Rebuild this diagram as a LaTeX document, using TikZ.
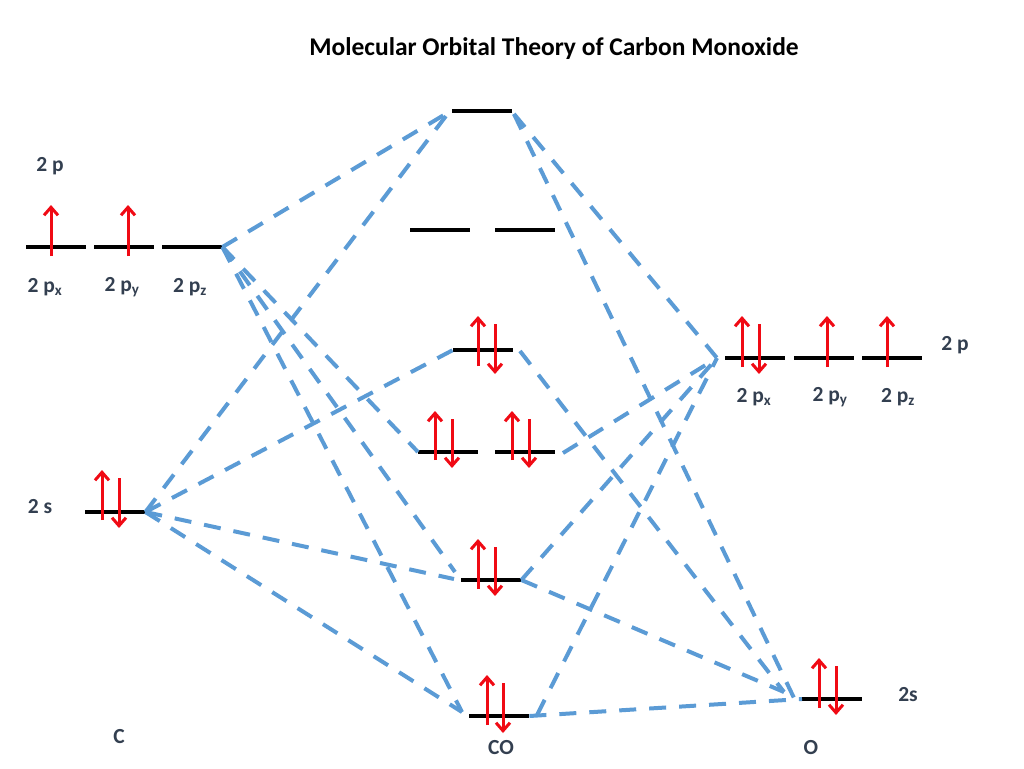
\documentclass[tikz,border=0pt]{standalone}
\usepackage{fontspec}
\setmainfont{Carlito}
\usetikzlibrary{arrows.meta}
\definecolor{lblue}{HTML}{5B9BD5}
\definecolor{slate}{HTML}{333F50}
\definecolor{elecred}{HTML}{F00A14}
\tikzset{
  level/.style={fill=black,inner sep=0pt,minimum width=#1,minimum height=4pt,anchor=west},
  level/.default=60pt,
  link/.style={draw=lblue,line width=4pt,dash pattern=on 17pt off 13pt},
  elec/.style={draw=elecred,line width=3pt,-{Straight Barb[length=8pt,width=14pt,line width=3pt]}},
  lab/.style={text=slate,font=\fontsize{21.5}{24}\selectfont\bfseries,inner sep=0pt},
  ttl/.style={text=black,font=\fontsize{25.5}{28}\selectfont\bfseries,inner sep=0pt}
}
\begin{document}
\begin{tikzpicture}[x=1pt,y=-1pt]
\useasboundingbox (0,0) rectangle (1024,768);
\node[ttl] (title) at (554,48.5) {Molecular Orbital Theory of Carbon Monoxide};
\node[level] (cx) at (26,247) {};
\node[level] (cy) at (94,247) {};
\node[level] (cz) at (162,247) {};
\node[level] (cs) at (85,512) {};
\node[level] (m1) at (452,111) {};
\node[level] (m2a) at (410,230) {};
\node[level] (m2b) at (495,230) {};
\node[level] (m3) at (453,350) {};
\node[level] (m4a) at (418,452) {};
\node[level] (m4b) at (495,452) {};
\node[level] (m5) at (461,580) {};
\node[level] (m6) at (469,716) {};
\node[level] (ox) at (725,358) {};
\node[level] (oy) at (794,358) {};
\node[level] (oz) at (862,358) {};
\node[level] (os) at (802,699) {};
% free ends of the connectors, where they stop short of a level
\coordinate (m1in) at (449,112);
\coordinate (m1out) at (514,114);
\coordinate (m3out) at (520,351);
\coordinate (m4out) at (563,453);
\coordinate (m5inA) at (455,572);
\coordinate (m5inB) at (454,579);
\coordinate (m6in) at (462,712);
\coordinate (m6out) at (537,715);
\coordinate (oxin) at (717,358);
\coordinate (osinA) at (794,698);
\coordinate (osinB) at (784,692);
\draw[link] (cz.east) -- (m1in);
\draw[link] (cs.east) -- (m1in);
\draw[link] (cz.east) -- (m4a.west);
\draw[link] (cz.east) -- (m5inA);
\draw[link] (cz.east) -- (m6in);
\draw[link] (cs.east) -- (m3.west);
\draw[link] (cs.east) -- (m5inB);
\draw[link] (cs.east) -- (m6in);
\draw[link] (m1out) -- (oxin);
\draw[link] (m1out) -- (osinA);
\draw[link] (m3out) -- (osinB);
\draw[link] (m4out) -- (oxin);
\draw[link] (m5.east) -- (oxin);
\draw[link] (m5.east) -- (osinB);
\draw[link] (m6out) -- (oxin);
\draw[link] (m6.east) -- (os.west);
\draw[elec] (51,256) -- (51,205);
\draw[elec] (128,256) -- (128,205);
\draw[elec] (102,520) -- (102,470);
\draw[elec] (119,478) -- (119,528);
\draw[elec] (478,366) -- (478,316);
\draw[elec] (495,324) -- (495,374);
\draw[elec] (435,460) -- (435,411);
\draw[elec] (452,419) -- (452,468);
\draw[elec] (512,460) -- (512,411);
\draw[elec] (529,419) -- (529,468);
\draw[elec] (478,589) -- (478,539);
\draw[elec] (495,547) -- (495,596);
\draw[elec] (487,725) -- (487,675);
\draw[elec] (503,683) -- (503,733);
\draw[elec] (742,367) -- (742,316);
\draw[elec] (759,324) -- (759,374);
\draw[elec] (827,367) -- (827,316);
\draw[elec] (887,367) -- (887,316);
\draw[elec] (819,708) -- (819,658);
\draw[elec] (836,666) -- (836,715);
\node[lab] (l2p) at (50,166) {2 p};
\node[lab] (lcx) at (45,287) {2 p\textsubscript{x}};
\node[lab] (lcy) at (122,287) {2 p\textsubscript{y}};
\node[lab] (lcz) at (190,287) {2 p\textsubscript{z}};
\node[lab] (l2s) at (40,507) {2 s};
\node[lab] (lc) at (119,737) {C};
\node[lab] (lco) at (501,748) {CO};
\node[lab] (lo) at (811,748) {O};
\node[lab] (lox) at (754,397) {2 p\textsubscript{x}};
\node[lab] (loy) at (830,397) {2 p\textsubscript{y}};
\node[lab] (loz) at (898,397) {2 p\textsubscript{z}};
\node[lab] (lop) at (955,345) {2 p};
\node[lab] (los) at (908,695) {2s};
\end{tikzpicture}
\end{document}
